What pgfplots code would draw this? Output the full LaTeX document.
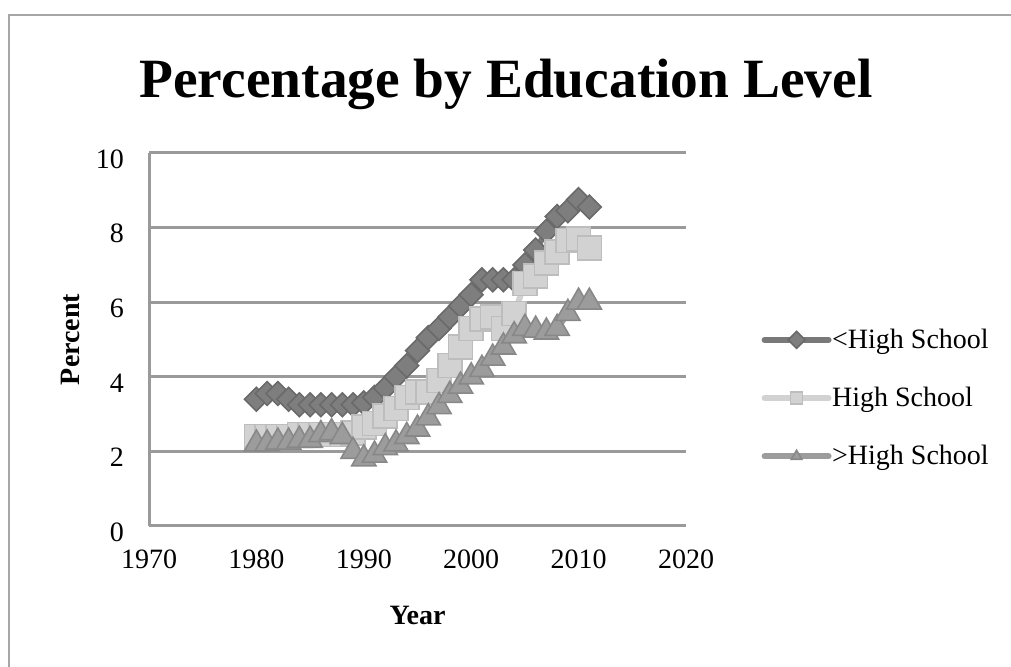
\documentclass[border=0pt]{standalone}
\usepackage{fontspec}
\setmainfont{Liberation Serif}
\usepackage{pgfplots}
\pgfplotsset{compat=1.18}
\usepackage{pgfplotstable}

\definecolor{gridgray}{HTML}{9A9A9A}
\definecolor{framegray}{HTML}{A6A6A6}
\definecolor{ltfill}{HTML}{7E7E7E}
\definecolor{ltdraw}{HTML}{6A6A6A}
\definecolor{hsfill}{HTML}{D2D2D2}
\definecolor{hsdraw}{HTML}{BDBDBD}
\definecolor{gtfill}{HTML}{9C9C9C}
\definecolor{gtdraw}{HTML}{888888}

% Percent by year, below high school
\pgfplotstableread{
year pct
1980 3.4
1981 3.55
1982 3.55
1983 3.4
1984 3.25
1985 3.25
1986 3.25
1987 3.25
1988 3.25
1989 3.25
1990 3.3
1991 3.45
1992 3.7
1993 4.0
1994 4.3
1995 4.7
1996 5.05
1997 5.3
1998 5.6
1999 5.9
2000 6.2
2001 6.6
2002 6.6
2003 6.6
2004 6.6
2005 7.0
2006 7.4
2007 7.9
2008 8.3
2009 8.45
2010 8.75
2011 8.55
}\lessHS

% High school
\pgfplotstableread{
year pct
1980 2.4
1981 2.4
1982 2.4
1983 2.4
1984 2.45
1985 2.45
1986 2.45
1987 2.45
1988 2.45
1989 2.5
1990 2.65
1991 2.75
1992 2.95
1993 3.15
1994 3.45
1995 3.6
1996 3.6
1997 3.9
1998 4.3
1999 4.8
2000 5.3
2001 5.55
2002 5.6
2003 5.3
2004 5.7
2005 6.5
2006 6.7
2007 7.05
2008 7.35
2009 7.65
2010 7.7
2011 7.45
}\HS

% Above high school
\pgfplotstableread{
year pct
1980 2.2
1981 2.2
1982 2.25
1983 2.25
1984 2.3
1985 2.3
1986 2.45
1987 2.5
1988 2.4
1989 2.0
1990 1.8
1991 1.9
1992 2.1
1993 2.2
1994 2.4
1995 2.6
1996 2.9
1997 3.2
1998 3.5
1999 3.75
2000 4.0
2001 4.2
2002 4.5
2003 4.8
2004 5.1
2005 5.3
2006 5.25
2007 5.2
2008 5.3
2009 5.7
2010 6.0
2011 6.0
}\moreHS

\begin{document}
\begin{tikzpicture}
% page and chart frame
\useasboundingbox (0pt,0pt) rectangle (505.5pt,333.5pt);
\draw[framegray, line width=1pt] (4.5pt,-5pt) -- (4.5pt,326pt) -- (512pt,326pt);
% title
\node[font=\fontsize{27.7}{32}\selectfont\bfseries] at (253pt,291.5pt) {Percentage by Education Level};

\begin{axis}[
  at={(74.5pt,70.5pt)}, anchor=south west,
  scale only axis, width=268.5pt, height=186.5pt,
  xmin=1970, xmax=2020, ymin=0, ymax=10,
  xtick={1970,1980,...,2020}, ytick={0,2,...,10},
  /pgf/number format/assume math mode=true,
  xticklabel={\pgfmathprintnumber[1000 sep={}]{\tick}},
  ticklabel style={font=\fontsize{14}{16}\selectfont},
  xticklabel style={yshift=-8.5pt},
  yticklabel style={xshift=-9pt, yshift=-3pt},
  major tick length=0pt,
  axis x line*=bottom, axis y line*=left,
  axis line style={gridgray, line width=1.5pt},
  ymajorgrids, major grid style={gridgray, line width=1.5pt},
  every axis y label/.style={at={(axis description cs:-0.147,0.5)},rotate=90,anchor=center,font=\fontsize{14}{16}\selectfont\bfseries},
  every axis x label/.style={at={(axis description cs:0.5,-0.239)},anchor=center,font=\fontsize{14}{16}\selectfont\bfseries},
  xlabel={Year}, ylabel={Percent},
  clip=false,
  legend style={draw=none, fill=none, at={(axis description cs:1.14,0.343)}, anchor=west,
    inner sep=0pt, row sep=17.3pt, font=\fontsize{14}{16}\selectfont,
    nodes={inner sep=0.3pt}},
  legend cell align=left,
  legend image code/.code={%
    \draw[#1, line width=3pt, line cap=round, mark=none] (0pt,0pt) -- (32pt,0pt);
    \draw[#1, mark size=3pt, only marks] plot coordinates {(16pt,0pt)};},
]
\addplot[ltdraw!90, line width=3pt, mark=square*, mark size=4.2pt,
  mark options={rotate=45, fill=ltfill, draw=ltdraw, line width=0.8pt}]
  table[x=year,y=pct] {\lessHS};
\addlegendentry{<High School}
\addplot[hsfill, line width=3pt, mark=square*, mark size=6pt,
  mark options={fill=hsfill, draw=hsdraw, line width=0.8pt}]
  table[x=year,y=pct] {\HS};
\addlegendentry{High School}
\addplot[gtfill, line width=3pt, mark=triangle*, mark size=7pt,
  mark options={fill=gtfill, draw=gtdraw, line width=0.8pt}]
  table[x=year,y=pct] {\moreHS};
\addlegendentry{>High School}
\end{axis}
\end{tikzpicture}
\end{document}
